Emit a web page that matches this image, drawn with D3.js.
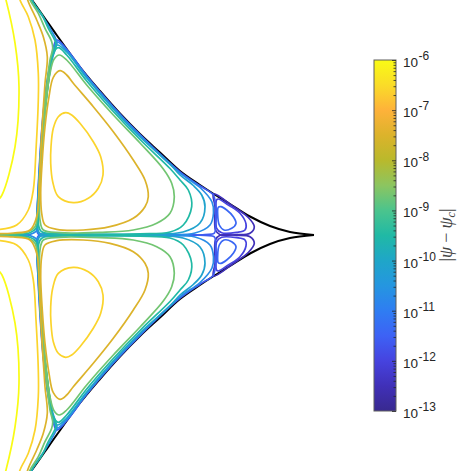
<!DOCTYPE html>
<html>
<head>
<meta charset="utf-8">
<script src="https://cdn.jsdelivr.net/npm/d3@7"></script>
<style>
html, body { margin: 0; padding: 0; background: #fff; }
svg { display: block; }
</style>
</head>
<body>
<svg id="drawing_region"></svg>
<script>
// flux surfaces, upper half only: [R, Z], the lower half is the mirror image
const boundary = [[0.22,2.49],[0.32,2.35],[0.45,2.165],[0.57,1.995],[0.8,1.68],[1.0,1.44],[1.2,1.215],[1.4,1.01],[1.6,0.825],[1.8,0.64],[2.0,0.50],[2.13,0.415],[2.3,0.31],[2.5,0.185],[2.7,0.09],[2.9,0.03],[3.14,0]];

// curves left of the vertical separatrix
const openCurves = [
    [[0.03,2.45],[0.06,2.35],[0.15,1.92],[0.19,1.48],[0.15,0.88],[0.02,0.40],[-0.03,0.34]],
    [[0.18,2.45],[0.20,2.35],[0.283,2.183],[0.35,1.95],[0.383,1.617],[0.383,1.35],[0.36,0.85],[0.333,0.45],[0.283,0.25],[0.167,0.10],[0,0.057]],
    [[0.26,2.45],[0.277,2.35],[0.367,2.15],[0.433,1.983],[0.473,1.783],[0.45,1.517],[0.417,1.017],[0.393,0.517],[0.367,0.183],[0.30,0.05],[0.133,0.02],[0,0.013]],
    [[0.27,2.45],[0.30,2.35],[0.383,2.217],[0.45,2.067],[0.517,1.933],[0.527,1.867],[0.50,1.75],[0.467,1.483],[0.423,1.05],[0.397,0.617],[0.377,0.217],[0.35,0.083],[0.283,0.033],[0,0.01]],
    [[0.29,2.45],[0.317,2.35],[0.417,2.207],[0.483,2.067],[0.55,1.943],[0.56,1.90],[0.517,1.767],[0.483,1.517],[0.433,1.083],[0.40,0.617],[0.377,0.217],[0.36,0.067],[0.30,0.023],[0,0.003]],
    [[0.30,2.45],[0.325,2.34],[0.45,2.15],[0.565,1.945],[0.57,1.92],[0.52,1.75],[0.46,1.35],[0.41,0.85],[0.383,0.3],[0.37,0.05],[0.3,0.006],[0,0.001]]
];
const openLevels = [-6, -6.6, -7.5, -8.7, -9.5, -10.7];

// closed curves right of the vertical separatrix
const closedCurves = [
    [[0.657,1.223],[0.583,1.183],[0.533,1.067],[0.51,0.883],[0.507,0.717],[0.527,0.533],[0.583,0.383],[0.733,0.323],[0.883,0.367],[0.983,0.467],[1.03,0.60],[1.007,0.783],[0.933,0.933],[0.80,1.117],[0.717,1.2]],
    [[0.60,1.643],[0.533,1.577],[0.49,1.383],[0.45,1.083],[0.423,0.75],[0.407,0.417],[0.417,0.217],[0.45,0.10],[0.567,0.057],[0.833,0.05],[1.10,0.083],[1.333,0.167],[1.45,0.283],[1.483,0.383],[1.45,0.55],[1.333,0.75],[1.133,1.033],[0.933,1.283],[0.733,1.517],[0.667,1.6]],
    [[0.593,1.80],[0.54,1.757],[0.50,1.617],[0.467,1.383],[0.433,1.017],[0.41,0.683],[0.397,0.35],[0.40,0.15],[0.433,0.05],[0.60,0.023],[1.0,0.027],[1.333,0.05],[1.567,0.117],[1.70,0.217],[1.743,0.383],[1.717,0.517],[1.633,0.66],[1.40,0.92],[1.133,1.2],[0.867,1.50],[0.667,1.75]],
    [[0.583,1.873],[0.533,1.817],[0.49,1.583],[0.45,1.25],[0.417,0.85],[0.393,0.417],[0.383,0.117],[0.417,0.033],[0.833,0.01],[1.4,0.012],[1.70,0.03],[1.833,0.10],[1.917,0.283],[1.883,0.45],[1.80,0.55],[1.70,0.665],[1.4,0.955],[1.133,1.235],[0.867,1.54],[0.667,1.80]],
    [[0.573,1.90],[0.527,1.817],[0.483,1.583],[0.44,1.25],[0.41,0.85],[0.383,0.417],[0.373,0.117],[0.40,0.017],[0.833,0.007],[1.5,0.007],[1.83,0.03],[2.0,0.12],[2.05,0.283],[2.017,0.40],[1.933,0.495],[1.8,0.60],[1.7,0.71],[1.4,0.98],[1.133,1.26],[0.867,1.57],[0.667,1.83]],
    [[0.57,1.93],[0.522,1.80],[0.478,1.57],[0.435,1.23],[0.405,0.83],[0.38,0.40],[0.37,0.10],[0.39,0.012],[0.833,0.005],[1.6,0.005],[1.95,0.02],[2.10,0.10],[2.135,0.22],[2.12,0.33],[2.0,0.475],[1.8,0.618],[1.4,0.993],[1.133,1.273],[0.867,1.583],[0.667,1.845]],
    [[0.565,1.95],[0.517,1.79],[0.473,1.55],[0.43,1.2],[0.40,0.8],[0.378,0.38],[0.368,0.08],[0.385,0.006],[0.833,0.002],[2.05,0.004],[2.145,0.02],[2.155,0.1],[2.155,0.30],[2.13,0.405],[2.0,0.492],[1.8,0.632],[1.4,1.003],[1.133,1.283],[0.867,1.593],[0.667,1.857]],
    [[2.183,0.277],[2.177,0.20],[2.193,0.10],[2.24,0.05],[2.317,0.067],[2.36,0.117],[2.333,0.183],[2.267,0.25],[2.21,0.283]],
    [[2.165,0.35],[2.162,0.217],[2.167,0.067],[2.217,0.023],[2.367,0.027],[2.45,0.05],[2.46,0.11],[2.40,0.217],[2.283,0.30],[2.183,0.36]],
    [[2.135,0.41],[2.333,0.285],[2.483,0.175],[2.543,0.083],[2.50,0.017],[2.367,0.003],[2.2,0.003],[2.155,0.05],[2.15,0.283]]
];
const closedLevels = [-6.6, -7.5, -8.7, -9.5, -10.1, -10.7, -11.6, -11.4, -12, -12.5];

// colormap
const cmapExponents = [-6, -6.5, -7, -7.5, -8, -8.5, -9, -9.5, -10, -10.5, -11, -11.5, -12, -12.5, -13];
const cmapColors = ['#f9fb15','#fadc28','#feb23a','#dcb32b','#b9b92c','#8cc560','#4bc48d','#20b9a5','#1fa6c8','#2596e0','#2f7df2','#3d62f5','#4643df','#4030b8','#38298f'];

const tickExponents = [-6, -7, -8, -9, -10, -11, -12, -13];
const minorMultipliers = [2, 3, 4, 5, 6, 7, 8, 9];

const config = {
    width: 457,
    height: 471,
    bar: {left: 374, right: 396, top: 60, bottom: 411}
};

const svg = d3.select('#drawing_region')
    .attr('width', config.width)
    .attr('height', config.height);

const xscale = d3.scaleLinear().domain([0, 3.14]).range([0, 314]);
const yscale = d3.scaleLinear().domain([-2.35, 2.35]).range([470, 0]);
const colorscale = d3.scaleLinear().domain(cmapExponents).range(cmapColors);

const plot = svg.append('g');

const drawCurve = (points, level, curve) => {
    [1, -1].forEach(sign => {
        const line = d3.line()
            .x(d => xscale(d[0]))
            .y(d => yscale(sign * d[1]))
            .curve(curve);
        plot.append('path')
            .attr('d', line(points))
            .attr('fill', 'none')
            .attr('stroke', level === null ? '#000' : colorscale(level))
            .attr('stroke-width', level === null ? 2 : 1.7);
    });
};

drawCurve(boundary, null, d3.curveCatmullRom);

// lowest levels first so the yellow and green curves end up on top
const allCurves = openCurves.map((c, i) => ({points: c, level: openLevels[i], curve: d3.curveCatmullRom}))
    .concat(closedCurves.map((c, i) => ({points: c, level: closedLevels[i], curve: d3.curveCatmullRomClosed})));

allCurves.sort((a, b) => a.level - b.level)
    .forEach(d => drawCurve(d.points, d.level, d.curve));

// colorbar
const barscale = d3.scaleLog()
    .domain([1e-13, 1e-6])
    .range([config.bar.bottom, config.bar.top]);

const gradient = svg.append('defs').append('linearGradient')
    .attr('id', 'cmap')
    .attr('x1', 0).attr('x2', 0).attr('y1', 0).attr('y2', 1);

gradient.selectAll('stop')
    .data(cmapExponents)
    .join('stop')
    .attr('offset', (d, i) => i / (cmapExponents.length - 1))
    .attr('stop-color', (d, i) => cmapColors[i]);

svg.append('rect')
    .attr('x', config.bar.left)
    .attr('y', config.bar.top)
    .attr('width', config.bar.right - config.bar.left)
    .attr('height', config.bar.bottom - config.bar.top)
    .attr('fill', 'url(#cmap)')
    .attr('stroke', '#5e5e5e')
    .attr('stroke-width', 1);

const minorValues = [];
tickExponents.slice(1).forEach(e => {
    minorMultipliers.forEach(m => minorValues.push(m * Math.pow(10, e)));
});

const axisGroup = svg.append('g')
    .attr('transform', `translate(${config.bar.right}, 0)`);

axisGroup.append('g')
    .call(d3.axisRight(barscale).tickValues(minorValues).tickSize(-2.5).tickFormat(''))
    .call(g => g.select('.domain').remove())
    .call(g => g.selectAll('line').attr('stroke', '#262626').attr('stroke-width', 0.8));

axisGroup.append('g')
    .call(d3.axisRight(barscale)
        .tickValues(tickExponents.map(e => Math.pow(10, e)))
        .tickSize(-4)
        .tickFormat(''))
    .call(g => g.select('.domain').remove())
    .call(g => g.selectAll('line').attr('stroke', '#262626').attr('stroke-width', 0.8));

const tickLabels = svg.selectAll('.ticklabel')
    .data(tickExponents)
    .join('text')
    .attr('class', 'ticklabel')
    .attr('x', 403)
    .attr('y', d => barscale(Math.pow(10, d)) + 7)
    .attr('font-family', '"Liberation Sans", Arial, sans-serif')
    .attr('font-size', 13.5)
    .attr('fill', '#262626');

tickLabels.append('tspan').text('10');
tickLabels.append('tspan')
    .attr('font-size', 12)
    .attr('dy', -6.7)
    .attr('dx', 0.5)
    .text(d => d);

// colorbar label
const barLabel = svg.append('text')
    .attr('transform', 'translate(452, 235) rotate(-90)')
    .attr('text-anchor', 'middle')
    .attr('font-family', '"Liberation Serif", "Times New Roman", serif')
    .attr('font-size', 18)
    .attr('fill', '#444');

barLabel.append('tspan').text('|');
barLabel.append('tspan').attr('font-style', 'italic').text('ψ');
barLabel.append('tspan').attr('dx', 4).text('−');
barLabel.append('tspan').attr('dx', 4).attr('font-style', 'italic').text('ψ');
barLabel.append('tspan').attr('font-size', 12).attr('dy', 3).attr('font-style', 'italic').text('c');
barLabel.append('tspan').attr('dy', -3).text('|');
</script>
</body>
</html>
